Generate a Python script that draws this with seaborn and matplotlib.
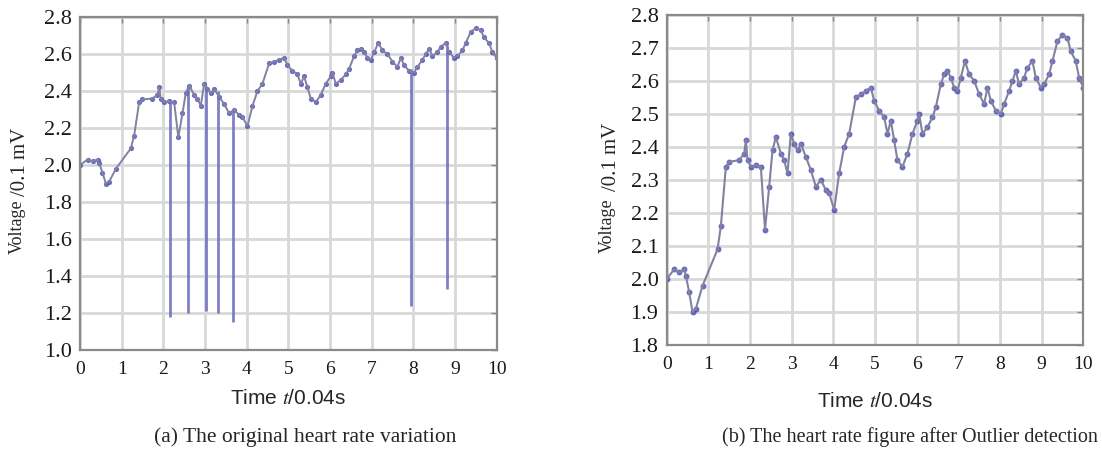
import numpy as np
import pandas as pd
import seaborn as sns
import matplotlib.pyplot as plt

# heart rate voltage (outliers removed = base curve)
t_base = [0.0, 0.18, 0.30, 0.42, 0.46, 0.54, 0.62, 0.70, 0.86, 1.22, 1.30, 1.42,
          1.50, 1.74, 1.86, 1.90, 1.94, 2.02, 2.14, 2.26, 2.36, 2.46, 2.54, 2.62,
          2.74, 2.82, 2.90, 2.98, 3.06, 3.14, 3.22, 3.34, 3.46, 3.58, 3.70, 3.82,
          3.90, 4.02, 4.14, 4.26, 4.38, 4.54, 4.66, 4.78, 4.90, 4.98, 5.10, 5.22,
          5.30, 5.38, 5.46, 5.54, 5.66, 5.78, 5.90, 6.02, 6.06, 6.14, 6.26, 6.38,
          6.46, 6.58, 6.66, 6.74, 6.82, 6.90, 6.98, 7.06, 7.16, 7.26, 7.38, 7.50,
          7.62, 7.70, 7.78, 7.90, 8.02, 8.10, 8.22, 8.30, 8.38, 8.46, 8.58, 8.66,
          8.78, 8.86, 8.98, 9.06, 9.18, 9.26, 9.38, 9.50, 9.62, 9.70, 9.82, 9.90,
          10.0]
v_base = [2.00, 2.03, 2.02, 2.03, 2.01, 1.96, 1.90, 1.91, 1.98, 2.09, 2.16, 2.34,
          2.355, 2.36, 2.38, 2.42, 2.36, 2.34, 2.345, 2.34, 2.15, 2.28, 2.39, 2.43,
          2.38, 2.36, 2.32, 2.44, 2.41, 2.39, 2.41, 2.37, 2.33, 2.28, 2.30, 2.27,
          2.26, 2.21, 2.32, 2.40, 2.44, 2.55, 2.56, 2.57, 2.58, 2.54, 2.51, 2.49,
          2.44, 2.48, 2.42, 2.36, 2.34, 2.38, 2.44, 2.48, 2.50, 2.44, 2.46, 2.49,
          2.52, 2.59, 2.62, 2.63, 2.61, 2.58, 2.57, 2.61, 2.66, 2.62, 2.60, 2.56,
          2.53, 2.58, 2.54, 2.51, 2.50, 2.53, 2.57, 2.60, 2.63, 2.59, 2.61, 2.64,
          2.66, 2.61, 2.58, 2.59, 2.62, 2.66, 2.72, 2.74, 2.73, 2.69, 2.66, 2.61,
          2.58]

# outlier spikes in the original signal
spike_t = [2.16, 2.60, 3.02, 3.32, 3.68, 7.94, 8.82]
spike_top = [2.36, 2.43, 2.43, 2.40, 2.30, 2.52, 2.65]
spike_low = [1.18, 1.20, 1.21, 1.20, 1.15, 1.24, 1.33]

x_ticks = list(range(0, 11))
y_ticks_a = [1.0, 1.2, 1.4, 1.6, 1.8, 2.0, 2.2, 2.4, 2.6, 2.8]
y_ticks_b = [1.8, 1.9, 2.0, 2.1, 2.2, 2.3, 2.4, 2.5, 2.6, 2.7, 2.8]

df = pd.DataFrame({"t": t_base, "v": v_base})

sns.set_theme(style="white")
plt.rcParams["font.family"] = ["Liberation Serif", "DejaVu Serif"]
plt.rcParams["mathtext.fontset"] = "stix"

fig = plt.figure(figsize=(11.02, 4.5), dpi=100)
ax_a = fig.add_axes([0.0726, 0.222, 0.378, 0.740])
ax_b = fig.add_axes([0.605, 0.233, 0.378, 0.734])

line_col = "#8282a0"
dot_col = "#3a3ab4"


def style_axes(ax, yticks):
    ax.set_xlim(0, 10)
    ax.set_ylim(yticks[0], yticks[-1])
    ax.set_xticks(x_ticks)
    ax.set_yticks(yticks)
    ax.set_yticklabels([f"{y:.1f}" for y in yticks])
    ax.grid(True, color="#d8d8d8", linewidth=2.0)
    ax.set_axisbelow(True)
    for s in ax.spines.values():
        s.set_color("#8a8a8a")
        s.set_linewidth(1.6)
    ax.tick_params(axis="both", direction="in", length=4, width=1, color="#888888",
                   top=True, right=True, labelcolor="#1a1a1a")
    ax.tick_params(axis="x", labelsize=14, pad=8)
    ax.tick_params(axis="y", labelsize=16, pad=6)
    ax.set_xlabel("")
    ax.set_ylabel("")


# (a) original signal with outliers
ax_a.vlines(spike_t, spike_low, spike_top, color="#6a6abe", linewidth=2, alpha=0.85)
sns.lineplot(data=df, x="t", y="v", ax=ax_a, color=line_col, linewidth=1.4,
             estimator=None, sort=False)
sns.scatterplot(data=df, x="t", y="v", ax=ax_a, color=dot_col, s=14,
                alpha=0.75, linewidth=0)
style_axes(ax_a, y_ticks_a)

# (b) after outlier detection
sns.lineplot(data=df, x="t", y="v", ax=ax_b, color=line_col, linewidth=1.5,
             estimator=None, sort=False)
sns.scatterplot(data=df, x="t", y="v", ax=ax_b, color=dot_col, s=18,
                alpha=0.75, linewidth=0)
style_axes(ax_b, y_ticks_b)

# y labels: small "Voltage" + larger "/0.1 mV"
fig.text(0.016, 0.496, "Voltage", rotation=90, fontsize=13, ha="center", va="center")
fig.text(0.019, 0.64, "/0.1 mV", rotation=90, fontsize=15, ha="center", va="center")
fig.text(0.551, 0.498, "Voltage", rotation=90, fontsize=13, ha="center", va="center")
fig.text(0.555, 0.652, "/0.1 mV", rotation=90, fontsize=15, ha="center", va="center")

# x labels
xl_font = ["Liberation Sans Narrow", "Liberation Sans"]
fig.text(0.261, 0.115, "Time $\\mathit{t}$/0.04s", fontsize=15, ha="center",
         va="center", family=xl_font)
fig.text(0.794, 0.107, "Time $\\mathit{t}$/0.04s", fontsize=15, ha="center",
         va="center", family=xl_font)

# captions
fig.text(0.277, 0.029, "(a) The original heart rate variation", fontsize=15.5,
         ha="center", va="center")
fig.text(0.996, 0.029, "(b) The heart rate figure after Outlier detection",
         fontsize=14.5, ha="right", va="center")

fig.savefig("out.png", dpi=100, facecolor="white")
